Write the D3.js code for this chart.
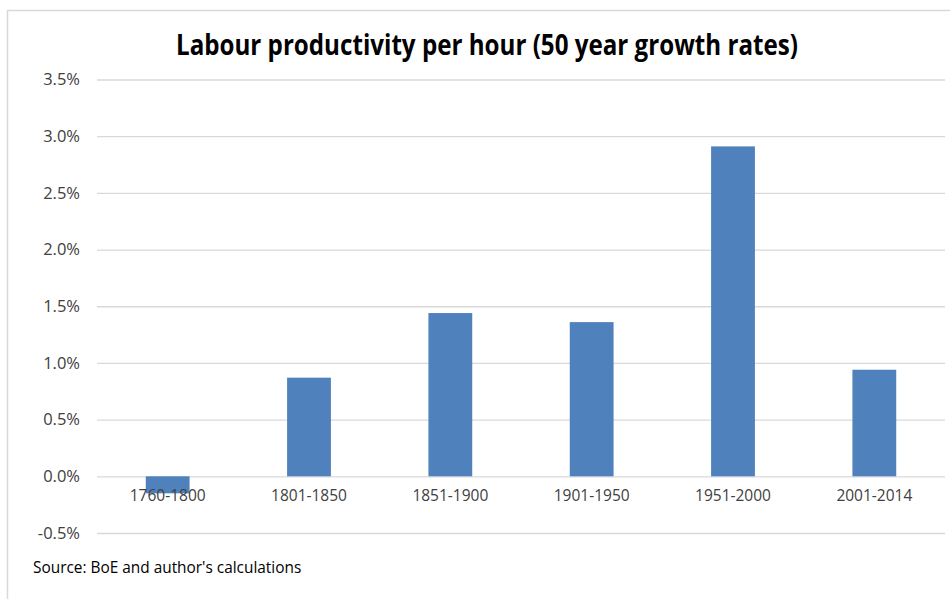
<!DOCTYPE html>
<html><head><meta charset="utf-8">
<script src="https://cdn.jsdelivr.net/npm/d3@7"></script>
<style>
html,body{margin:0;padding:0;background:#fff;}
svg{display:block;}
</style></head>
<body>
<svg id="chart" width="950" height="599"></svg>
<script>
const categories = ["1760-1800","1801-1850","1851-1900","1901-1950","1951-2000","2001-2014"];
const values = [-0.0015, 0.0087, 0.0144, 0.0136, 0.0291, 0.0094];
const yTicks = [-0.005, 0, 0.005, 0.01, 0.015, 0.02, 0.025, 0.03, 0.035];
const titleText = "Labour productivity per hour (50 year growth rates)";
const sourceText = "Source: BoE and author's calculations";

const svg = d3.select("#chart");
const font = "'Open Sans', 'Liberation Sans', sans-serif";

// frame
svg.append("line").attr("x1",7.5).attr("x2",7.5).attr("y1",10).attr("y2",599).attr("stroke","#d9d9d9").attr("stroke-width",1.5);
svg.append("line").attr("x1",7).attr("x2",950).attr("y1",10.5).attr("y2",10.5).attr("stroke","#d9d9d9").attr("stroke-width",1.5);

const x = d3.scaleBand().domain(categories).range([97, 945]).paddingInner(0.69).paddingOuter(0.345);
const y = d3.scaleLinear().domain([-0.005, 0.035]).range([533, 79.5]);

const pct = d3.format(".1%");
// gridlines
const yAxis = d3.axisLeft(y).tickValues(yTicks).tickSize(-(945-97))
  .tickFormat(d => pct(d).replace("\u2212","-")).tickPadding(17);
const gy = svg.append("g").attr("transform","translate(97,0)").call(yAxis);
gy.select(".domain").remove();
gy.selectAll(".tick line").attr("stroke","#d9d9d9").attr("stroke-width",1.3);
gy.selectAll(".tick text").attr("fill","#404040").style("font-family",font).style("font-size","16.5px");

// bars
svg.append("g").selectAll("rect").data(values).join("rect")
  .attr("x",(d,i)=>x(categories[i]))
  .attr("width",x.bandwidth())
  .attr("y",d=>y(Math.max(0,d)))
  .attr("height",d=>Math.abs(y(d)-y(0)))
  .attr("fill","#4f81bd");

// x labels
const xAxis = d3.axisBottom(x).tickSize(0).tickPadding(14);
const gx = svg.append("g").attr("transform",`translate(0,${y(0)})`).call(xAxis);
gx.select(".domain").remove();
gx.selectAll(".tick text").attr("fill","#404040").style("font-family",font).style("font-size","15.5px");

// title
svg.append("text").attr("x",487).attr("y",55).attr("text-anchor","middle")
  .attr("textLength",622).attr("lengthAdjust","spacingAndGlyphs")
  .style("font-family",font).style("font-weight","bold").style("font-size","28px")
  .attr("fill","#000").text(titleText);

// source
svg.append("text").attr("x",33).attr("y",573)
  .style("font-family",font).style("font-size","15.4px").attr("fill","#000").text(sourceText);
</script>
</body></html>
